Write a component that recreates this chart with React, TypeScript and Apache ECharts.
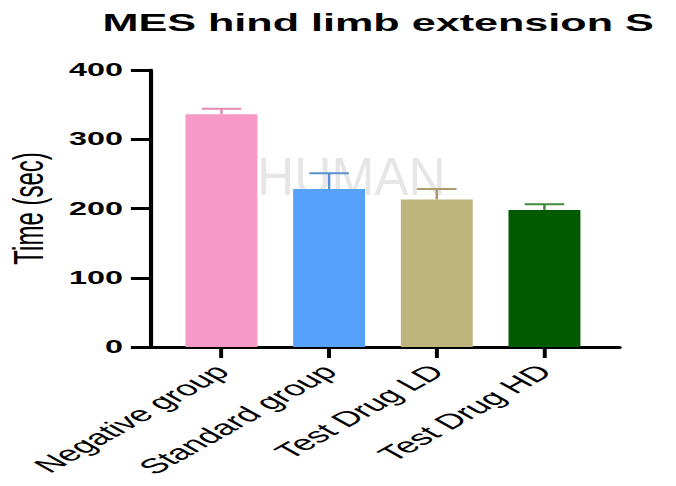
import React, { useEffect, useRef } from "react";
import * as echarts from "echarts";

const categories = ["Negative group", "Standard group", "Test Drug LD", "Test Drug HD"];
const means = [336, 228, 213, 198];
const errors = [8, 23, 15, 8];
const barColors = ["#f799c6", "#56a1fb", "#bfb47c", "#005a00"];
const errColors = ["#e58ab5", "#5a8fd6", "#a99d6c", "#3c8a3c"];
const yMin = 0;
const yMax = 400;
const yInterval = 100;
const titleText = "MES hind limb extension S";
const yName = "Time (sec)";
const watermark = "HUMAN";

const W = 676;
const H = 486;
const INNER_W = 376;
const SX = W / INNER_W;

export default function App() {
  const ref = useRef<HTMLDivElement>(null);
  useEffect(() => {
    if (!ref.current) return;
    const chart = echarts.init(ref.current, null, { renderer: "svg" });
    const idx = categories.map((_, i) => i);
    chart.setOption({
      animation: false,
      backgroundColor: "#ffffff",
      title: {
        text: titleText,
        left: 57,
        top: 10,
        padding: 0,
        textStyle: { fontSize: 24, fontWeight: "bold", color: "#000", fontFamily: "Liberation Sans, Arial, sans-serif" },
      },
      graphic: [
        {
          type: "text",
          x: 143,
          y: 150,
          scaleX: 0.54,
          z: -10,
          silent: true,
          style: { text: watermark, fontSize: 53, fill: "#e6e6e6", fontFamily: "Liberation Sans, Arial, sans-serif" },
        },
      ],
      grid: { left: 83.4, right: INNER_W - 344.4, top: 70, bottom: H - 347, outerBoundsMode: "none", containLabel: false },
      xAxis: {
        type: "value",
        min: -0.664,
        max: 3.694,
        splitLine: { show: false },
        axisLine: { show: true, onZero: false, lineStyle: { color: "#000", width: 3 } },
        axisTick: { show: true, customValues: idx, length: 11, lineStyle: { color: "#000", width: 2.2 } },
        axisLabel: {
          customValues: idx,
          formatter: (v: number) => categories[Math.round(v)] ?? "",
          rotate: 45,
          margin: 21,
          fontSize: 21,
          color: "#000",
          fontFamily: "Liberation Sans, Arial, sans-serif",
        },
      },
      yAxis: {
        type: "value",
        min: yMin,
        max: yMax,
        interval: yInterval,
        name: yName,
        nameLocation: "middle",
        nameRotate: 90,
        nameGap: 56,
        nameTextStyle: { fontSize: 24, color: "#000", fontFamily: "Liberation Sans, Arial, sans-serif" },
        splitLine: { show: false },
        axisLine: { show: true, onZero: false, lineStyle: { color: "#000", width: 2.3 } },
        axisTick: { show: true, length: 10.6, lineStyle: { color: "#000", width: 3 } },
        axisLabel: {
          margin: 15,
          fontSize: 18,
          fontWeight: "bold",
          color: "#000",
          fontFamily: "Liberation Sans, Arial, sans-serif",
        },
      },
      series: [
        {
          type: "bar",
          barWidth: 40,
          data: means.map((m, i) => ({ value: [i, m], itemStyle: { color: barColors[i] } })),
        },
        {
          type: "custom",
          data: means.map((m, i) => [i, m, errors[i]]),
          z: 5,
          renderItem: (params: any, api: any) => {
            const i = api.value(0);
            const m = api.value(1);
            const e = api.value(2);
            const base = api.coord([i, m]);
            const top = api.coord([i, m + e]);
            const color = errColors[params.dataIndex];
            const half = 11;
            return {
              type: "group",
              children: [
                { type: "line", shape: { x1: base[0], y1: base[1], x2: top[0], y2: top[1] }, style: { stroke: color, lineWidth: 1.4 } },
                { type: "line", shape: { x1: top[0] - half, y1: top[1], x2: top[0] + half, y2: top[1] }, style: { stroke: color, lineWidth: 2 } },
              ],
            };
          },
        },
      ],
    });
    return () => chart.dispose();
  }, []);
  return (
    <div style={{ position: "fixed", left: 0, top: 0, width: W, height: H, overflow: "hidden", background: "#fff" }}>
      <div
        ref={ref}
        style={{ width: INNER_W, height: H, transform: `scaleX(${SX})`, transformOrigin: "0 0" }}
      />
    </div>
  );
}
